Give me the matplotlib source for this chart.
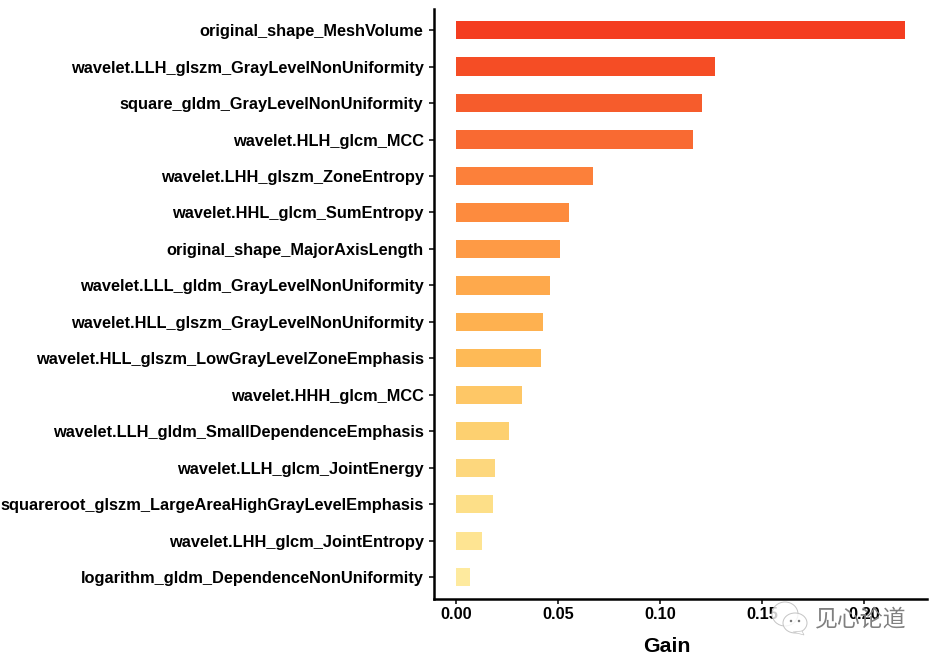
import matplotlib
matplotlib.use("Agg")
import matplotlib.pyplot as plt
from matplotlib.patches import Ellipse, Polygon

features = [
    "original_shape_MeshVolume",
    "wavelet.LLH_glszm_GrayLevelNonUniformity",
    "square_gldm_GrayLevelNonUniformity",
    "wavelet.HLH_glcm_MCC",
    "wavelet.LHH_glszm_ZoneEntropy",
    "wavelet.HHL_glcm_SumEntropy",
    "original_shape_MajorAxisLength",
    "wavelet.LLL_gldm_GrayLevelNonUniformity",
    "wavelet.HLL_glszm_GrayLevelNonUniformity",
    "wavelet.HLL_glszm_LowGrayLevelZoneEmphasis",
    "wavelet.HHH_glcm_MCC",
    "wavelet.LLH_gldm_SmallDependenceEmphasis",
    "wavelet.LLH_glcm_JointEnergy",
    "squareroot_glszm_LargeAreaHighGrayLevelEmphasis",
    "wavelet.LHH_glcm_JointEntropy",
    "logarithm_gldm_DependenceNonUniformity",
]
gain = [0.220, 0.127, 0.1205, 0.116, 0.067, 0.0554, 0.051, 0.046,
        0.0426, 0.0415, 0.0324, 0.0262, 0.019, 0.018, 0.0127, 0.0068]
colors = ["#F43D20", "#F54D25", "#F65C2C", "#F96A32", "#FC803A", "#FD8B3E",
          "#FE9A45", "#FEA94C", "#FEB150", "#FEBA56", "#FEC766", "#FDD070",
          "#FDD77D", "#FDDF88", "#FEE492", "#FEEA9E"]
xticks = [0.00, 0.05, 0.10, 0.15, 0.20]

plt.rcParams["font.family"] = ["Liberation Sans", "DejaVu Sans"]

W, H = 936, 660
fig = plt.figure(figsize=(W / 100, H / 100), dpi=100)
ax = fig.add_axes([434 / W, 1 - 599 / H, (926.5 - 434) / W, (599 - 9) / H])

# top feature goes on top
pos = list(range(len(features)))[::-1]
ax.barh(pos, gain, height=0.5, color=colors)
ax.set_yticks(pos)
ax.set_yticklabels(features, fontsize=11.8, fontweight="bold", color="black")
ax.set_xticks(xticks)
ax.set_xticklabels([f"{t:.2f}" for t in xticks], fontsize=11.8, fontweight="bold")
ax.set_xlim(-0.0108, 0.2307)
ax.set_ylim(-0.6, 15.58)
ax.set_xlabel("Gain", fontsize=15.3, fontweight="bold", labelpad=11, x=0.472)
ax.tick_params(axis="y", length=3.5, width=1.1, pad=4)
ax.tick_params(axis="x", length=3.5, width=1.1, pad=2)

ax.spines["top"].set_visible(False)
ax.spines["right"].set_visible(False)
ax.spines["left"].set_linewidth(1.8)
ax.spines["bottom"].set_linewidth(1.8)

# watermark in the lower right corner, icon plus text
def px(x, y):
    return x / W, 1 - y / H

wm = "#808080"
for cx, cy, w, h in [(785, 614, 26, 24), (795, 623, 24, 20)]:
    x0, y0 = px(cx, cy)
    fig.add_artist(Ellipse((x0, y0), w / W, h / H, transform=fig.transFigure,
                           facecolor=(1, 1, 1, 0.8), edgecolor="#c4c4c4", linewidth=0.7))
fig.add_artist(Polygon([px(793, 632), px(802, 631), px(804, 635)], transform=fig.transFigure,
                       facecolor="white", edgecolor="#c4c4c4", linewidth=0.5))
for dx, dy in [(791, 621), (799, 621)]:
    x0, y0 = px(dx, dy)
    fig.add_artist(Ellipse((x0, y0), 2.5 / W, 2.5 / H, transform=fig.transFigure,
                           facecolor="#777777", edgecolor="none"))
fx, fy = px(815, 619)
fig.text(fx, fy, "见心论道", fontsize=16.5, color=wm, va="center", ha="left",
         family=["Noto Sans CJK SC", "DejaVu Sans"], fontweight="light")

fig.savefig("out.png", dpi=100)
